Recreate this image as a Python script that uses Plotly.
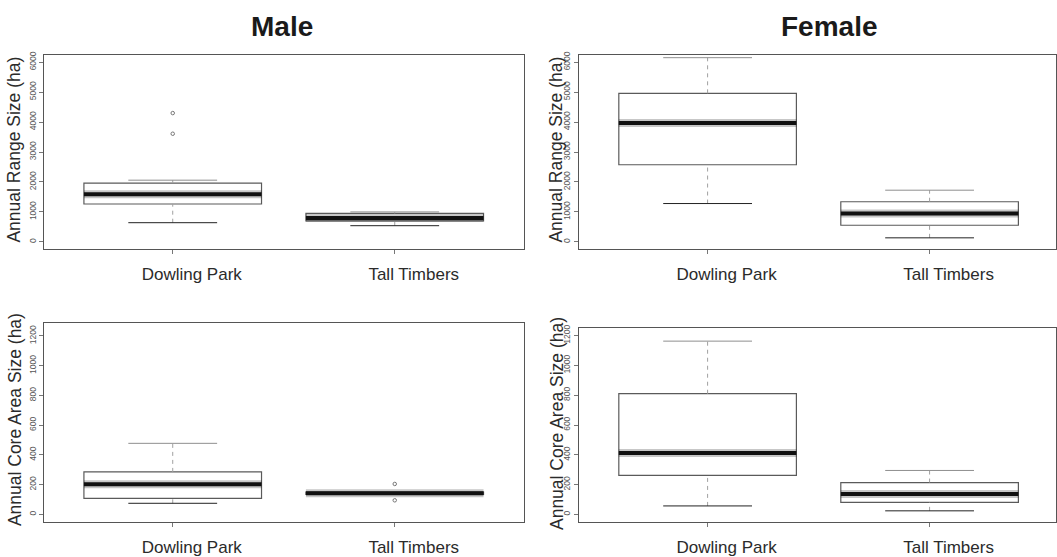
import plotly.graph_objects as go

# Study sites on the x axis
groups = ["Dowling Park", "Tall Timbers"]
positions = [1, 2]

# Annual range size (ha), males
male_range_lo = [640, 540]
male_range_q1 = [1265, 700]
male_range_med = [1590, 800]
male_range_q3 = [1960, 950]
male_range_hi = [2060, 1000]
male_range_out_x = [1, 1]
male_range_out_y = [3610, 4300]

# Annual range size (ha), females
female_range_lo = [1280, 135]
female_range_q1 = [2575, 555]
female_range_med = [3970, 950]
female_range_q3 = [4960, 1340]
female_range_hi = [6150, 1725]
female_range_out_x = []
female_range_out_y = []

# Annual core area size (ha), males
male_core_lo = [75, 135]
male_core_q1 = [108, 135]
male_core_med = [203, 143]
male_core_q3 = [286, 150]
male_core_hi = [478, 150]
male_core_out_x = [2, 2]
male_core_out_y = [95, 205]

# Annual core area size (ha), females
female_core_lo = [57, 24]
female_core_q1 = [262, 81]
female_core_med = [412, 137]
female_core_q3 = [810, 214]
female_core_hi = [1163, 295]
female_core_out_x = []
female_core_out_y = []

range_ticks = [0, 1000, 2000, 3000, 4000, 5000, 6000]
core_ticks = [0, 200, 400, 600, 800, 1000, 1200]

W, H = 1057, 557
FONT = "Liberation Sans, Arial, Helvetica, sans-serif"

panels = [
    dict(ax="", lo=male_range_lo, q1=male_range_q1, med=male_range_med, q3=male_range_q3,
         hi=male_range_hi, ox=male_range_out_x, oy=male_range_out_y),
    dict(ax="2", lo=female_range_lo, q1=female_range_q1, med=female_range_med, q3=female_range_q3,
         hi=female_range_hi, ox=female_range_out_x, oy=female_range_out_y),
    dict(ax="3", lo=male_core_lo, q1=male_core_q1, med=male_core_med, q3=male_core_q3,
         hi=male_core_hi, ox=male_core_out_x, oy=male_core_out_y),
    dict(ax="4", lo=female_core_lo, q1=female_core_q1, med=female_core_med, q3=female_core_q3,
         hi=female_core_hi, ox=female_core_out_x, oy=female_core_out_y),
]

BOX_W = 0.8
CAP_W = 0.4

fig = go.Figure()
for p in panels:
    xa, ya = "x" + p["ax"], "y" + p["ax"]
    for i, xpos in enumerate(positions):
        # dashed whiskers from the box edges out to the caps
        for a, b in ((p["lo"][i], p["q1"][i]), (p["q3"][i], p["hi"][i])):
            if a != b:
                fig.add_trace(go.Scatter(
                    x=[xpos, xpos], y=[a, b], mode="lines", xaxis=xa, yaxis=ya,
                    line=dict(color="#a0a0a0", width=1, dash="4px,4px"),
                    showlegend=False, hoverinfo="skip"))
        # whisker caps
        for val, col in ((p["hi"][i], "#8f8f8f"), (p["lo"][i], "#222222")):
            if val not in (p["q1"][i], p["q3"][i]):
                fig.add_trace(go.Scatter(
                    x=[xpos - CAP_W / 2, xpos + CAP_W / 2], y=[val, val], mode="lines",
                    xaxis=xa, yaxis=ya, line=dict(color=col, width=1),
                    showlegend=False, hoverinfo="skip"))
        # the box itself
        fig.add_trace(go.Box(
            x=[xpos], q1=[p["q1"][i]], median=[p["med"][i]], q3=[p["q3"][i]],
            lowerfence=[p["q1"][i]], upperfence=[p["q3"][i]],
            width=BOX_W, whiskerwidth=0, boxpoints=False,
            fillcolor="white", line=dict(color="#5a5a5a", width=1.2),
            xaxis=xa, yaxis=ya, showlegend=False, hoverinfo="skip"))
        # thick median bar with a soft halo
        fig.add_trace(go.Scatter(
            x=[xpos - BOX_W / 2, xpos + BOX_W / 2], y=[p["med"][i]] * 2, mode="lines",
            xaxis=xa, yaxis=ya, line=dict(color="rgba(0,0,0,0.22)", width=8),
            showlegend=False, hoverinfo="skip"))
        fig.add_trace(go.Scatter(
            x=[xpos - BOX_W / 2, xpos + BOX_W / 2], y=[p["med"][i]] * 2, mode="lines",
            xaxis=xa, yaxis=ya, line=dict(color="#111111", width=4),
            showlegend=False, hoverinfo="skip"))
    if p["oy"]:
        fig.add_trace(go.Scatter(
            x=p["ox"], y=p["oy"], mode="markers", xaxis=xa, yaxis=ya,
            marker=dict(symbol="circle-open", size=3.5, color="#777777", line=dict(width=1)),
            showlegend=False, hoverinfo="skip"))


def px_x(v):
    return v / W


def px_y(v):
    return 1 - v / H


def xaxis(domain, rng):
    return dict(domain=domain, range=rng, tickvals=positions, ticktext=groups,
                ticks="outside", ticklen=4, tickcolor="#777777", ticklabelshift=19,
                ticklabelstandoff=6, tickfont=dict(family=FONT, size=17, color="#2b2b2b"),
                showline=True, mirror=True, linecolor="#555555", linewidth=1,
                showgrid=False, zeroline=False, fixedrange=True)


def yaxis(domain, rng, ticks, anchor):
    return dict(domain=domain, range=rng, tickvals=ticks, tickangle=-90,
                ticks="outside", ticklen=4, tickcolor="#777777",
                tickfont=dict(family=FONT, size=8.5, color="#555555"),
                showline=True, mirror=True, linecolor="#555555", linewidth=1,
                showgrid=False, zeroline=False, anchor=anchor, fixedrange=True)


left_dom = [px_x(44), px_x(524)]
right_dom = [px_x(579.4), 1.0]
left_rng = [0.42, 2.58]
right_rng = [0.42, 0.42 + (W - 579.4) / 222.2]

top_dom = [px_y(250), px_y(52)]
bl_dom = [px_y(528), px_y(325)]
br_dom = [px_y(528), px_y(331)]

fig.update_layout(
    width=W, height=H, margin=dict(l=0, r=0, t=0, b=0),
    paper_bgcolor="white", plot_bgcolor="white", showlegend=False,
    xaxis=dict(**xaxis(left_dom, left_rng), anchor="y"),
    xaxis2=dict(**xaxis(right_dom, right_rng), anchor="y2"),
    xaxis3=dict(**xaxis(left_dom, left_rng), anchor="y3"),
    xaxis4=dict(**xaxis(right_dom, right_rng), anchor="y4"),
    yaxis=yaxis(top_dom, [-240, 6240], range_ticks, "x"),
    yaxis2=yaxis(top_dom, [-240, 6240], range_ticks, "x2"),
    yaxis3=yaxis(bl_dom, [-48, 1290], core_ticks, "x3"),
    yaxis4=yaxis(br_dom, [-48, 1248], core_ticks, "x4"),
)

title_font = dict(family=FONT, size=28, color="#1a1a1a")
ytitle_font = dict(family=FONT, size=17.5, color="#2b2b2b")
annotations = [
    dict(text="<b>Male</b>", x=px_x(282), y=px_y(22.5), font=title_font),
    dict(text="<b>Female</b>", x=px_x(830), y=px_y(22.5), font=title_font),
    dict(text="Annual Range Size (ha)", x=px_x(14.5), y=px_y(148), textangle=-90, font=ytitle_font),
    dict(text="Annual Range Size (ha)", x=px_x(557), y=px_y(148), textangle=-90, font=ytitle_font),
    dict(text="Annual Core Area Size (ha)", x=px_x(14.5), y=px_y(424), textangle=-90, font=ytitle_font),
    dict(text="Annual Core Area Size (ha)", x=px_x(557), y=px_y(428), textangle=-90, font=ytitle_font),
]
for a in annotations:
    a.update(xref="paper", yref="paper", xanchor="center", yanchor="middle", showarrow=False)
fig.update_layout(annotations=annotations)

fig.write_html("out.html")
